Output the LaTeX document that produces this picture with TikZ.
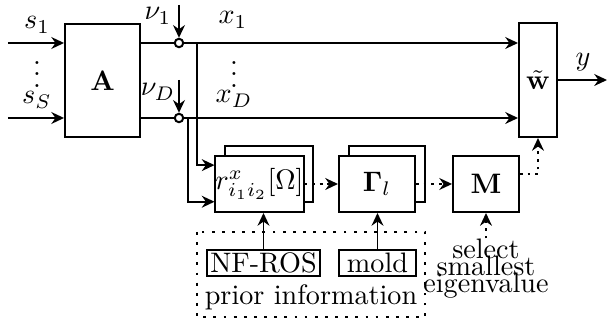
\documentclass[tikz,border=0pt]{standalone}
\usepackage{amsmath}
\usepackage{amssymb}
\usepackage{bm}
\usetikzlibrary{arrows.meta,shadows}

\begin{document}
\begin{tikzpicture}[x=0.355pt, y=-0.355pt, line width=0.7pt, >={Stealth[length=4.5pt,width=4.2pt]},
	every node/.style={inner sep=1pt}]
	\tikzset{blk/.style={draw, fill=white, line width=0.7pt},
		stacked/.style={blk, general shadow={draw, fill=white, line width=0.7pt, shadow xshift=3.4pt, shadow yshift=3.4pt}},
		adder/.style={circle, draw, fill=white, inner sep=0pt, minimum size=3pt},
		dots/.style={dash pattern=on 1pt off 1.7pt},
		priorbox/.style={dash pattern=on 1pt off 2.6pt}}
	\useasboundingbox (0,0) rectangle (607,322);
	% blocks
	\node[blk, minimum width=26.6pt, minimum height=40.1pt] (A) at (102.5,80.5) {$\mathbf{A}$};
	\node[blk, minimum width=13.5pt, minimum height=40.5pt] (w) at (538,80) {$\tilde{\mathbf{w}}$};
	\node[stacked, minimum width=30.2pt, minimum height=19.9pt, inner sep=0pt] (r) at (259.5,184) {$r^x_{i_1 i_2}[\Omega]$};
	\node[stacked, minimum width=27pt, minimum height=19.9pt] (G) at (377,184) {$\bm{\Gamma}_l$};
	\node[blk, minimum width=23.4pt, minimum height=19.9pt] (M) at (486,184) {$\mathbf{M}$};
	\node[blk, minimum width=40.1pt, minimum height=9.2pt, inner sep=0.5pt] (nfros) at (263.5,263) {NF-ROS};
	\node[blk, minimum width=27.3pt, minimum height=9.2pt, inner sep=0.5pt] (mold) at (377.5,263) {mold};
	\node (pinfo) at (311,297) {prior information};
	\node[align=center, inner sep=0pt] (sel) at (486,269) {select\\[-6pt]smallest\\[-6pt]eigenvalue};
	% adders
	\node[adder] (n1) at (179,43) {};
	\node[adder] (nD) at (179,118) {};
	\coordinate (s1in) at (8,43);
	\coordinate (sSin) at (8,118);
	\coordinate (nu1in) at (179,5);
	\coordinate (nuDin) at (179,80);
	\coordinate (b1) at (197,43);
	\coordinate (bD) at (188,118);
	\coordinate (yout) at (607,80);
	% labels
	\node (s1) at (37,25) {$s_1$};
	\node[inner sep=0pt] (sdots) at (37,66) {$\vdots$};
	\node (sS) at (37,100) {$s_S$};
	\node[inner sep=0pt] (nu1) at (158,16) {$\nu_1$};
	\node (nuD) at (158,92) {$\nu_D$};
	\node (x1) at (233,20) {$x_1$};
	\node[inner sep=0pt] (xdots) at (234,66) {$\vdots$};
	\node (xD) at (234,99) {$x_D$};
	\node (y) at (583,62) {$y$};
	% signal paths
	\draw[->] (s1in) -- (s1in -| A.west);
	\draw[->] (sSin) -- (sSin -| A.west);
	\draw (A.east |- n1) -- (n1);
	\draw (A.east |- nD) -- (nD);
	\draw[->] (nu1in) -- (n1);
	\draw[->] (nuDin) -- (nD);
	\draw[->] (n1) -- (n1 -| w.west);
	\draw[->] (nD) -- (nD -| w.west);
	\draw[->] (w.east) -- (yout);
	\draw[->] (b1) |- ([yshift=6.7pt]r.west);
	\draw[->] (bD) |- ([yshift=-6.3pt]r.west);
	\draw[->, dots] (r.east) -- (G.west);
	\draw[->, dots] (G.east) -- (M.west);
	\draw[->, dots] ([yshift=3.5pt]M.east) -| (w.south);
	\draw[->, dots] (sel.north) -- (M.south);
	% prior information
	\draw[priorbox] (197,232) rectangle (425,317);
	\draw[->] (nfros.north) -- (r.south -| nfros.north);
	\draw[->] (mold.north) -- (G.south -| mold.north);
\end{tikzpicture}
\end{document}
